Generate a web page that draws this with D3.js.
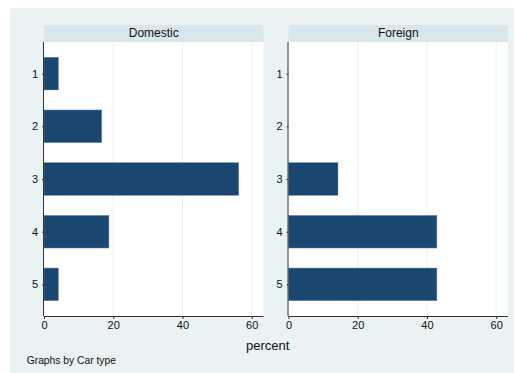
<!DOCTYPE html>
<html>
<head>
<meta charset="utf-8">
<script src="https://cdn.jsdelivr.net/npm/d3@7"></script>
<style>
  body { margin: 0; background: #fff; }
  text { font-family: "Liberation Sans", Arial, Helvetica, sans-serif; fill: #111; }
</style>
</head>
<body>
<svg id="chart" width="514" height="373"></svg>
<script>
// Repair record (rep78) distribution by car type, in percent
const categories = [1, 2, 3, 4, 5];
const panels = ["Domestic", "Foreign"];
const domesticPct = [4.17, 16.67, 56.25, 18.75, 4.17];
const foreignPct = [0, 0, 14.29, 42.86, 42.86];
const xTicks = [0, 20, 40, 60];
const xTitle = "percent";
const note = "Graphs by Car type";

const seriesByPanel = [domesticPct, foreignPct];

const svg = d3.select("#chart");
const W = 514, H = 373;

// outer graph region
svg.append("rect").attr("x", 10).attr("y", 8).attr("width", W - 10).attr("height", H - 8)
  .attr("fill", "#EAF2F3");

const panelLeft = [44, 288.5];
const panelWidth = 219.5;
const plotTop = 42, plotBottom = 316;
const stripTop = 25;

const y = d3.scaleLinear().domain([0.4, 5.6]).range([plotTop, plotBottom]);
const barH = (y(2) - y(1)) * 0.62;

panels.forEach((name, i) => {
  const x0 = panelLeft[i];
  const x = d3.scaleLinear().domain([0, 63.4]).range([x0, x0 + panelWidth]);
  const g = svg.append("g");

  // header strip
  g.append("rect").attr("x", x0).attr("y", stripTop).attr("width", panelWidth)
    .attr("height", plotTop - stripTop).attr("fill", "#D9E6EB");
  g.append("text").attr("x", x0 + panelWidth / 2).attr("y", 36.5)
    .attr("text-anchor", "middle").attr("font-size", "12px").text(name);

  // plot area
  g.append("rect").attr("x", x0).attr("y", plotTop).attr("width", panelWidth)
    .attr("height", plotBottom - plotTop).attr("fill", "#fff");

  // vertical gridlines
  g.selectAll(".grid").data(xTicks.filter(t => t > 0)).enter().append("line")
    .attr("x1", d => x(d)).attr("x2", d => x(d))
    .attr("y1", plotTop).attr("y2", plotBottom)
    .attr("stroke", "#EAF2F3").attr("stroke-width", 1);

  // bars
  g.selectAll(".bar").data(categories.map((c, k) => ({ c, v: seriesByPanel[i][k] })).filter(d => d.v > 0))
    .enter().append("rect")
    .attr("x", x(0)).attr("y", d => y(d.c) - barH / 2)
    .attr("width", d => x(d.v) - x(0)).attr("height", barH)
    .attr("fill", "#1A476F").attr("stroke", "#6A8BAA").attr("stroke-width", 0.5);

  // x axis
  const xa = g.append("g").attr("transform", `translate(0,${plotBottom})`)
    .call(d3.axisBottom(x).tickValues(xTicks).tickSize(3).tickPadding(2).tickSizeOuter(0));
  xa.select(".domain").attr("stroke", "#333").attr("d", `M${x0},0.5H${x0 + panelWidth}`);
  xa.selectAll(".tick line").attr("stroke", "#333");
  xa.selectAll(".tick text").attr("font-size", "11px").attr("fill", "#111")
    .style("font-family", "Liberation Sans, Arial, sans-serif");

  // y axis
  const ya = g.append("g").attr("transform", `translate(${x0},0)`)
    .call(d3.axisLeft(y).tickValues(categories).tickFormat(d3.format("d"))
      .tickSize(2).tickPadding(4).tickSizeOuter(0));
  ya.select(".domain").attr("stroke", "#333").attr("d", `M-0.5,${plotTop}V${plotBottom}`);
  ya.selectAll(".tick line").attr("stroke", "#333");
  ya.selectAll(".tick text").attr("font-size", "11px").attr("fill", "#111")
    .style("font-family", "Liberation Sans, Arial, sans-serif");
});

// axis title and note
svg.append("text").attr("x", 267.7).attr("y", 349.5).attr("text-anchor", "middle")
  .attr("font-size", "13px").text(xTitle);
svg.append("text").attr("x", 26.7).attr("y", 364.3).attr("font-size", "10.3px").text(note);
</script>
</body>
</html>
